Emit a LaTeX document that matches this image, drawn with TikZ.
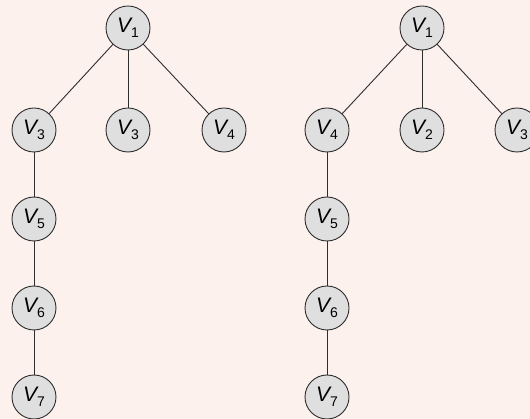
\documentclass[tikz,border=0pt]{standalone}
\usepackage{fontspec}
\setmainfont{Liberation Sans}
\usepackage{tikz}
\definecolor{bgpink}{RGB}{253,241,237}
\definecolor{nodegray}{RGB}{223,223,223}
\definecolor{linegray}{RGB}{45,45,45}
\newcommand{\vx}[1]{\textit{V}\kern-1.5pt\raisebox{-5pt}{\fontsize{14}{14}\selectfont #1}}

\begin{document}
\begin{tikzpicture}[x=1pt, y=-1pt, node distance={89pt}, line width=0.9pt, draw=linegray,
  main/.style = {draw=linegray, fill=nodegray, circle, minimum size=44pt, inner sep=0pt, font=\fontsize{21}{21}\selectfont}]
\fill[bgpink] (0,0) rectangle (530,419);
\useasboundingbox (0,0) rectangle (530,419);
% first tree
\node[main] (1) at (128,28) {\vx{1}};
\node[main] (2) at (34,130) {\vx{3}};
\node[main] (3) at (128,130) {\vx{3}};
\node[main] (4) at (224,130) {\vx{4}};
\node[main] (5) [below of=2] {\vx{5}};
\node[main] (6) [below of=5] {\vx{6}};
\node[main] (7) [below of=6] {\vx{7}};
% second tree
\node[main] (8) at (422,28) {\vx{1}};
\node[main] (9) at (327,130) {\vx{4}};
\node[main] (10) at (422,130) {\vx{2}};
\node[main] (11) at (517,130) {\vx{3}};
\node[main] (12) [below of=9] {\vx{5}};
\node[main] (13) [below of=12] {\vx{6}};
\node[main] (14) [below of=13] {\vx{7}};
\draw (1) -- (2);
\draw (1) -- (3);
\draw (1) -- (4);
\draw (2) -- (5);
\draw (5) -- (6);
\draw (6) -- (7);
\draw (8) -- (9);
\draw (8) -- (10);
\draw (8) -- (11);
\draw (9) -- (12);
\draw (12) -- (13);
\draw (13) -- (14);
\end{tikzpicture}
\end{document}
